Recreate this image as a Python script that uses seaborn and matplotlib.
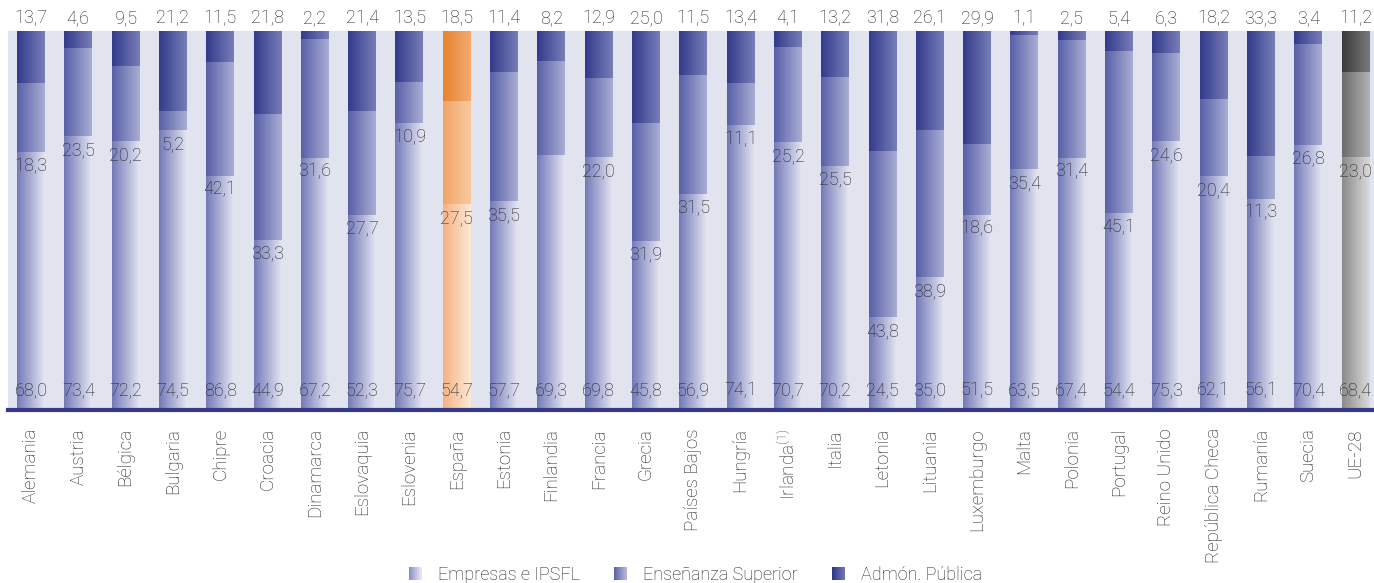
import numpy as np
import pandas as pd
import matplotlib
matplotlib.use("Agg")
import matplotlib.pyplot as plt
import seaborn as sns
from matplotlib.colors import LinearSegmentedColormap
from matplotlib.legend_handler import HandlerBase
from matplotlib.patches import Rectangle, Patch

# datos (los tres valores de cada país; la barra se normaliza a 100)
paises = ["Alemania", "Austria", "Bélgica", "Bulgaria", "Chipre", "Croacia", "Dinamarca",
          "Eslovaquia", "Eslovenia", "España", "Estonia", "Finlandia", "Francia", "Grecia",
          "Países Bajos", "Hungría", "Irlanda$^{(1)}$", "Italia", "Letonia", "Lituania",
          "Luxemburgo", "Malta", "Polonia", "Portugal", "Reino Unido", "República Checa",
          "Rumanía", "Suecia", "UE-28"]
empresas = [68.0, 73.4, 72.2, 74.5, 86.8, 44.9, 67.2, 52.3, 75.7, 54.7, 57.7, 69.3, 69.8, 45.8,
            56.9, 74.1, 70.7, 70.2, 24.5, 35.0, 51.5, 63.5, 67.4, 54.4, 75.3, 62.1, 56.1, 70.4, 68.4]
ensenanza = [18.3, 23.5, 20.2, 5.2, 42.1, 33.3, 31.6, 27.7, 10.9, 27.5, 35.5, 25.6, 22.0, 31.9,
             31.5, 11.1, 25.2, 25.5, 43.8, 38.9, 18.6, 35.4, 31.4, 45.1, 24.6, 20.4, 11.3, 26.8, 23.0]
admon = [13.7, 4.6, 9.5, 21.2, 11.5, 21.8, 2.2, 21.4, 13.5, 18.5, 11.4, 8.2, 12.9, 25.0,
         11.5, 13.4, 4.1, 13.2, 31.8, 26.1, 29.9, 1.1, 2.5, 5.4, 6.3, 18.2, 33.3, 3.4, 11.2]
sin_etiqueta = ["Finlandia"]  # la enseñanza superior no lleva rótulo en el original
series = ["Empresas e IPSFL", "Enseñanza Superior", "Admón. Pública"]

df = pd.DataFrame({"pais": paises, series[0]: empresas, series[1]: ensenanza, series[2]: admon})
total = df[series].sum(axis=1)
pct = df[series].div(total, axis=0) * 100
cum = pct.cumsum(axis=1)

# gradientes (izquierda -> derecha) por tramo
azul = [("#7379b7", "#e4e6f2"), ("#585fa7", "#a9aed4"), ("#323a8b", "#787eb8")]
naranja = [("#f4b283", "#fde9d6"), ("#f1a466", "#f8cba0"), ("#e8822f", "#f3ab70")]
gris = [("#8a8a8a", "#dcdcdc"), ("#6c6c6c", "#b2b2b2"), ("#3a3a3a", "#7a7a7a")]

def colores(p):
    if p == "España":
        return naranja
    if p == "UE-28":
        return gris
    return azul

sns.set_theme(style="white")
plt.rcParams["font.family"] = ["Roboto", "DejaVu Sans"]
plt.rcParams["font.weight"] = "light"
plt.rcParams["mathtext.fontset"] = "custom"
plt.rcParams["mathtext.rm"] = "Roboto:light"
plt.rcParams["mathtext.default"] = "rm"
texto = "#222222"

W, H = 1374, 583
fig = plt.figure(figsize=(W / 100, H / 100), dpi=100)
ax = fig.add_axes([8 / W, 1 - 410 / H, 1 - 8 / W, (410 - 31) / H])
ax.set_facecolor("#e1e4ef")

# barras apiladas: se dibuja primero el acumulado mayor
capas = []
for k in [2, 1, 0]:
    n0 = len(ax.patches)
    sns.barplot(x=df["pais"], y=cum[series[k]], color=azul[k][0], width=0.59, ax=ax,
                order=paises, zorder=1)
    capas.insert(0, ax.patches[n0:])

# gradiente sobre cada tramo
for k in range(3):
    for i, patch in enumerate(capas[k]):
        x0 = patch.get_x()
        w = patch.get_width()
        top = patch.get_height()
        bot = capas[k - 1][i].get_height() if k > 0 else 0
        c0, c1 = colores(paises[i])[k]
        cmap = LinearSegmentedColormap.from_list("g", [c0, c1])
        ax.imshow(np.linspace(0, 1, 256).reshape(1, -1), cmap=cmap, aspect="auto",
                  extent=[x0, x0 + w, bot, top], zorder=2, interpolation="bilinear")
        patch.set_alpha(0)

fmt = lambda v: f"{v:.1f}".replace(".", ",")
for i, p in enumerate(paises):
    ax.annotate(fmt(admon[i]), (i, 100), xytext=(0, 9.5), textcoords="offset points",
                ha="center", va="center", fontsize=13, color=texto, annotation_clip=False)
    if p not in sin_etiqueta:
        ax.annotate(fmt(ensenanza[i]), (i, pct[series[0]][i]), xytext=(0, -10),
                    textcoords="offset points", ha="center", va="center", fontsize=13,
                    color=texto, zorder=3)
    ax.annotate(fmt(empresas[i]), (i, 0), xytext=(0, 14.5), textcoords="offset points",
                ha="center", va="center", fontsize=13, color=texto, zorder=3)

ax.set_xlim(-0.486, 28.39)
ax.set_ylim(0, 100)
ax.set_yticks([])
ax.set_xlabel("")
ax.set_ylabel("")
for s in ["top", "left", "right"]:
    ax.spines[s].set_visible(False)
ax.spines["bottom"].set_color("#373a8a")
ax.spines["bottom"].set_linewidth(3)
ax.spines["bottom"].set_zorder(5)
ax.set_xticks(range(len(paises)))
ax.set_xticklabels(paises, rotation=90, fontsize=13.5, color=texto)
ax.tick_params(axis="x", length=0, pad=13)


class Degradado(HandlerBase):
    def __init__(self, c0, c1):
        super().__init__()
        self.c0, self.c1 = c0, c1

    def create_artists(self, legend, orig_handle, xdescent, ydescent, width, height,
                       fontsize, trans):
        cmap = LinearSegmentedColormap.from_list("g", [self.c0, self.c1])
        n = 12
        arts = []
        for j in range(n):
            r = Rectangle((-xdescent + width * j / n, -ydescent), width / n + 0.3, height,
                          facecolor=cmap(j / (n - 1)), edgecolor="none", transform=trans)
            arts.append(r)
        return arts


leyenda = [("#8a90c5", "#e2e4f1"), ("#5c63a9", "#aeb2d7"), ("#2f3786", "#6c72b1")]
handles = [Patch(label=s) for s in series]
fig.legend(handles=handles, loc="center", bbox_to_anchor=(0.506, 1 - 575 / H), ncol=3,
           frameon=False, fontsize=13, labelcolor=texto, handlelength=0.7,
           handleheight=0.7, handletextpad=0.9, columnspacing=1.9,
           handler_map={h: Degradado(*c) for h, c in zip(handles, leyenda)})

fig.savefig("out.png", dpi=100)
